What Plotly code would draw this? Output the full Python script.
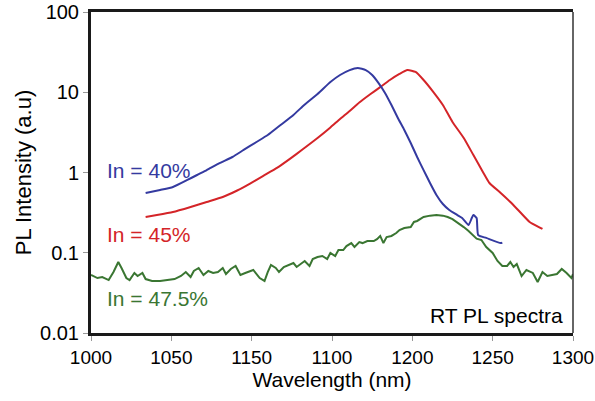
import math
import plotly.graph_objects as go

# Room-temperature photoluminescence spectra for three indium compositions
wl_40 = [1034, 1043, 1051, 1060, 1066, 1072, 1080, 1088, 1095, 1103, 1110, 1118,
         1126, 1132, 1141, 1149, 1155, 1161, 1166, 1171, 1175, 1179, 1183, 1187,
         1191, 1195, 1199, 1203, 1207, 1211, 1215, 1219, 1223, 1228, 1231, 1235,
         1237, 1238, 1240, 1241, 1246, 1255, 1256]
pl_40 = [0.555, 0.605, 0.659, 0.807, 0.931, 1.07, 1.31, 1.56, 1.91, 2.40, 2.93, 3.91,
         5.21, 6.75, 9.5, 13.4, 16.4, 18.9, 20.1, 18.9, 16.4, 13.0, 9.8, 6.93,
         4.78, 3.39, 2.33, 1.56, 1.07, 0.74, 0.525, 0.405, 0.341, 0.295, 0.271, 0.222,
         0.271, 0.295, 0.271, 0.166, 0.153, 0.132, 0.134]

wl_45 = [1034, 1041, 1051, 1062, 1072, 1082, 1091, 1099, 1107, 1116, 1124, 1132,
         1141, 1149, 1155, 1161, 1167, 1174, 1180, 1186, 1192, 1197, 1202, 1207,
         1213, 1219, 1225, 1232, 1238, 1244, 1248, 1255, 1261, 1267, 1273, 1280, 1281]
pl_45 = [0.279, 0.295, 0.322, 0.372, 0.429, 0.495, 0.597, 0.729, 0.904, 1.15, 1.49, 1.96,
         2.69, 3.64, 4.64, 5.84, 7.45, 9.5, 11.6, 14.2, 16.9, 18.9, 17.9, 14.2,
         10.1, 6.93, 4.26, 2.69, 1.65, 1.01, 0.74, 0.555, 0.429, 0.322, 0.242, 0.203, 0.198]

wl_475 = [1000, 1004, 1007, 1011, 1014, 1017, 1019, 1022, 1024, 1027, 1029, 1032,
          1034, 1038, 1043, 1047, 1052, 1056, 1059, 1062, 1064, 1067, 1070, 1073,
          1076, 1079, 1082, 1084, 1087, 1090, 1093, 1096, 1099, 1101, 1105, 1108,
          1110, 1112, 1115, 1117, 1120, 1123, 1126, 1128, 1131, 1133, 1136, 1138,
          1141, 1144, 1147, 1149, 1152, 1154, 1157, 1159, 1162, 1164, 1167, 1169,
          1172, 1176, 1178, 1180, 1182, 1184, 1187, 1190, 1192, 1195, 1199, 1201,
          1203, 1207, 1211, 1215, 1219, 1222, 1225, 1228, 1232, 1235, 1238, 1240,
          1243, 1246, 1250, 1253, 1256, 1259, 1261, 1263, 1265, 1268, 1271, 1275,
          1278, 1281, 1284, 1287, 1290, 1293, 1296, 1299, 1300]
pl_475 = [0.0528, 0.0484, 0.0499, 0.0457, 0.0575, 0.0767, 0.0646, 0.0484, 0.0457, 0.056,
          0.0513, 0.056, 0.047, 0.0445, 0.0445, 0.0457, 0.047, 0.0513, 0.0575, 0.0499,
          0.0593, 0.0646, 0.0528, 0.0593, 0.056, 0.0575, 0.0646, 0.0543, 0.0628, 0.0684,
          0.0528, 0.056, 0.0593, 0.061, 0.0484, 0.0445, 0.0575, 0.0704, 0.0646, 0.0575,
          0.0665, 0.0704, 0.0745, 0.0665, 0.0745, 0.0789, 0.0684, 0.0836, 0.0885, 0.0911,
          0.0836, 0.0993, 0.0911, 0.108, 0.108, 0.121, 0.132, 0.118, 0.136, 0.132,
          0.140, 0.140, 0.148, 0.162, 0.132, 0.157, 0.162, 0.176, 0.192, 0.203,
          0.209, 0.242, 0.249, 0.279, 0.290, 0.295, 0.290, 0.279, 0.262, 0.240,
          0.209, 0.187, 0.166, 0.150, 0.144, 0.118, 0.0993, 0.0789, 0.0684, 0.0684,
          0.0767, 0.0665, 0.0724, 0.0513, 0.061, 0.056, 0.0432, 0.0575, 0.0513, 0.0528,
          0.0543, 0.0628, 0.056, 0.0484, 0.0543]

x_ticks = [1000, 1050, 1100, 1150, 1200, 1250, 1300]
x_tick_text = ["1000", "1050", "1150", "1100", "1200", "1250", "1300"]
y_ticks = [0.01, 0.1, 1, 10, 100]
y_tick_text = ["0.01", "0.1", "1", "10", "100"]

BLUE = "rgb(52,58,160)"
RED = "rgb(212,36,40)"
GREEN = "rgb(58,118,50)"
FONT = "Liberation Sans, Arial, sans-serif"

fig = go.Figure()
for wl, pl, col, shape in [(wl_475, pl_475, GREEN, "linear"),
                           (wl_45, pl_45, RED, "spline"),
                           (wl_40, pl_40, BLUE, "spline")]:
    fig.add_trace(go.Scatter(x=wl, y=pl, mode="lines",
                             line=dict(color=col, width=2, shape=shape, smoothing=0.5),
                             showlegend=False))

# curve labels (y given in intensity units; log axis wants log10)
labels = [("In = 40%", 1009, 1.05, BLUE),
          ("In = 45%", 1009, 0.171, RED),
          ("In = 47.5%", 1009, 0.0273, GREEN)]
for txt, xv, yv, col in labels:
    fig.add_annotation(x=xv, y=math.log10(yv), xref="x", yref="y", text=txt,
                       showarrow=False, xanchor="left", yanchor="middle",
                       font=dict(size=21, color=col, family=FONT))
fig.add_annotation(x=0.983, y=0.053, xref="paper", yref="paper", text="RT PL spectra",
                   showarrow=False, xanchor="right", yanchor="middle",
                   font=dict(size=21, color="black", family=FONT))

# right-hand frame edge is thinner than the other three
fig.add_shape(type="line", xref="paper", yref="paper", x0=1, x1=1, y0=0, y1=1,
              line=dict(color="#333333", width=1.5))

fig.update_xaxes(range=[1000, 1300], tickvals=x_ticks, ticktext=x_tick_text,
                 showgrid=False, zeroline=False, showline=True, mirror=True,
                 automargin=False,
                 linecolor="#1a1a1a", linewidth=3, ticks="outside", ticklen=5,
                 tickcolor="#999999", tickwidth=1,
                 tickfont=dict(size=19, color="black", family=FONT),
                 title=dict(text="Wavelength (nm)", standoff=6,
                            font=dict(size=21, color="black", family=FONT)))
fig.update_yaxes(type="log", range=[-2, 2], tickvals=y_ticks, ticktext=y_tick_text,
                 showgrid=False, zeroline=False, showline=True, automargin=False,
                 linecolor="#1a1a1a", linewidth=3, ticks="outside", ticklen=5,
                 tickcolor="#999999", tickwidth=1,
                 tickfont=dict(size=20, color="black", family=FONT),
                 title=dict(text="PL Intensity (a.u)", standoff=3,
                            font=dict(size=22, color="black", family=FONT)))

fig.update_layout(width=595, height=401, margin=dict(l=91, r=22, t=12, b=68),
                  paper_bgcolor="white", plot_bgcolor="white")

fig.write_html("out.html")
